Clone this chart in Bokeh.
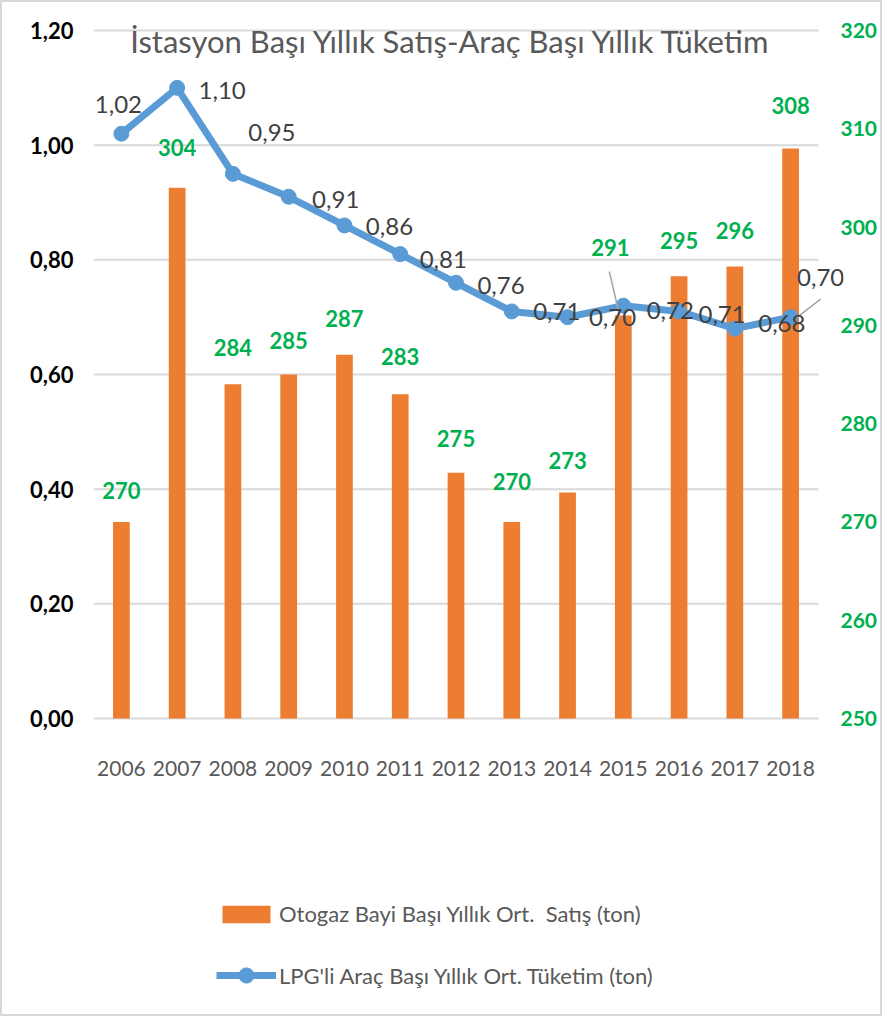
from bokeh.plotting import figure
from bokeh.models import Range1d, LinearAxis, FixedTicker, Label, Legend, LegendItem
from bokeh.core.properties import value
from bokeh.embed import file_html
from bokeh.resources import INLINE

# ---------------- data ----------------
title_text = "İstasyon Başı Yıllık Satış-Araç Başı Yıllık Tüketim"
years = ["2006", "2007", "2008", "2009", "2010", "2011", "2012",
         "2013", "2014", "2015", "2016", "2017", "2018"]
sales = [270, 304, 284, 285, 287, 283, 275, 270, 273, 291, 295, 296, 308]
consumption = [1.02, 1.10, 0.95, 0.91, 0.86, 0.81, 0.76, 0.71, 0.70, 0.72, 0.71, 0.68, 0.70]
sales_name = "Otogaz Bayi Başı Yıllık Ort.  Satış (ton)"
cons_name = "LPG'li Araç Başı Yıllık Ort. Tüketim (ton)"
left_ticks = [0.0, 0.2, 0.4, 0.6, 0.8, 1.0, 1.2]
left_tick_labels = ["0,00", "0,20", "0,40", "0,60", "0,80", "1,00", "1,20"]
right_ticks = [250, 260, 270, 280, 290, 300, 310, 320]
right_tick_labels = ["250", "260", "270", "280", "290", "300", "310", "320"]

sales_labels = [str(v) for v in sales]
cons_labels = [f"{v:.2f}".replace(".", ",") for v in consumption]
idx = list(range(len(years)))

# ---------------- style / layout ----------------
FONT = "Lato"
PLOT_W, PLOT_H = 725, 688          # the gridded plot area
EXT_RIGHT = 25                     # room right of the plot area (last label)
EXT_BOTTOM = 292                   # room below the plot area (year labels + legend)
EXT_TOP = 20                       # room above the plot area (title)
FRAME_W = PLOT_W + EXT_RIGHT
FRAME_H = PLOT_H + EXT_BOTTOM + EXT_TOP
ORANGE, BLUE, GREEN = "#ED7D31", "#5B9BD5", "#00B050"
GRID = "#d9d9d9"

px_x = PLOT_W / len(years)
px_left = PLOT_H / (left_ticks[-1] - left_ticks[0])
px_right = PLOT_H / (right_ticks[-1] - right_ticks[0])

# label offsets (pixels) for the data labels
cons_dx = [-3, 45, 39, 47, 45, 43, 45, 45, 45, 47, 43, 47, 30]
cons_dy = [-29, 3, -41, 3, 1, 5, 3, 0, 0, 5, 3, -5, -40]
sales_dx = [0, 0, 0, 0, 0, 0, 0, 0, 0, -13, 0, 0, 0]
sales_dy = [-31, -40, -37, -34, -36, -38, -34, -40, -32, -68, -36, -36, -43]

x_lo, x_hi = -0.5, len(years) - 0.5
p = figure(frame_width=FRAME_W, frame_height=FRAME_H,
           x_range=Range1d(x_lo, x_hi + EXT_RIGHT / px_x),
           y_range=Range1d(left_ticks[0] - EXT_BOTTOM / px_left,
                           left_ticks[-1] + EXT_TOP / px_left),
           output_backend="svg", toolbar_location=None,
           min_border_left=91, min_border_right=31,
           min_border_top=28 - EXT_TOP, min_border_bottom=4,
           background_fill_color="white", border_fill_color="white")
p.outline_line_color = None
p.styles = {"border": "2px solid #d9d9d9"}
p.extra_y_ranges = {"right": Range1d(right_ticks[0] - EXT_BOTTOM / px_right,
                                     right_ticks[-1] + EXT_TOP / px_right)}

# grid (only across the plot area)
p.xgrid.grid_line_color = None
p.ygrid.grid_line_color = None
p.segment(x0=[x_lo] * len(left_ticks), x1=[x_hi] * len(left_ticks),
          y0=left_ticks, y1=left_ticks, line_color=GRID, line_width=2,
          level="underlay")

# left axis
ya = p.yaxis[0]
ya.ticker = FixedTicker(ticks=left_ticks)
ya.major_label_overrides = dict(zip(left_ticks, left_tick_labels))
ya.axis_line_color = None
ya.major_tick_line_color = None
ya.minor_tick_line_color = None
ya.major_label_standoff = 14
ya.major_label_text_font = FONT
ya.major_label_text_font_size = "22px"
ya.major_label_text_font_style = "bold"
ya.major_label_text_color = "#000000"

# right axis
ra = LinearAxis(y_range_name="right", ticker=FixedTicker(ticks=right_ticks))
ra.major_label_overrides = dict(zip(right_ticks, right_tick_labels))
ra.axis_line_color = None
ra.major_tick_line_color = None
ra.minor_tick_line_color = None
ra.major_label_standoff = 16 - EXT_RIGHT
ra.major_label_text_font = FONT
ra.major_label_text_font_size = "21px"
ra.major_label_text_font_style = "bold"
ra.major_label_text_color = GREEN
p.add_layout(ra, "right")

# x axis: category labels are drawn under the plot area
p.xaxis.visible = False
p.text(x=idx, y=[left_ticks[0]] * len(years), text=years, y_offset=50,
       text_align="center", text_baseline="middle",
       text_font=value(FONT), text_font_size="21px", text_color="#595959")

# bars (right axis)
bars = p.vbar(x=idx, top=sales, bottom=right_ticks[0], width=0.3,
              y_range_name="right", fill_color=ORANGE, line_color=None)

# line (left axis)
ln = p.line(idx, consumption, line_color=BLUE, line_width=7)
mk = p.scatter(idx, consumption, size=15, fill_color=BLUE, line_color=BLUE)

# leader lines (derived from label offsets)
i15, i18 = 9, 12
p.segment(x0=[i15 + (sales_dx[i15] - 1) / px_x], y0=[sales[i15] + (-sales_dy[i15] - 24) / px_right],
          x1=[i15 - 0.05], y1=[sales[i15] - 0.4],
          y_range_name="right", line_color="#a6a6a6", line_width=1.5)
p.segment(x0=[i18 + 4 / px_x], y0=[consumption[i18] - 2 / px_left],
          x1=[i18 + cons_dx[i18] / px_x], y1=[consumption[i18] + (-cons_dy[i18] - 22) / px_left],
          line_color="#a6a6a6", line_width=1.5)

# data labels
p.text(x=idx, y=sales, text=sales_labels, x_offset=sales_dx, y_offset=sales_dy,
       y_range_name="right", text_align="center", text_baseline="middle",
       text_font=value(FONT), text_font_size="22px", text_font_style="bold",
       text_color=GREEN)
p.text(x=idx, y=consumption, text=cons_labels, x_offset=cons_dx, y_offset=cons_dy,
       text_align="center", text_baseline="middle",
       text_font=value(FONT), text_font_size="24px", text_color="#404040")

# title
p.add_layout(Label(x=PLOT_W / 2 - 5, y=FRAME_H - EXT_TOP - 10, x_units="screen", y_units="screen",
                   text=title_text, text_align="center", text_baseline="middle",
                   text_font=FONT, text_font_size="31px", text_color="#595959"))

# legends (inside the frame, under the year labels)
common = dict(orientation="vertical", glyph_width=60, label_standoff=3,
              padding=0, margin=0, border_line_color=None, background_fill_alpha=0,
              label_text_font=FONT, label_text_font_size="22px", label_text_color="#595959")
leg_bar = Legend(items=[LegendItem(label=sales_name, renderers=[bars])],
                 location=(123, 83), glyph_height=22, **common)
leg_line = Legend(items=[LegendItem(label=cons_name, renderers=[ln, mk])],
                  location=(123, 16), glyph_height=38, **common)
p.add_layout(leg_bar, "center")
p.add_layout(leg_line, "center")

open("out.html", "w").write(file_html(p, INLINE))
